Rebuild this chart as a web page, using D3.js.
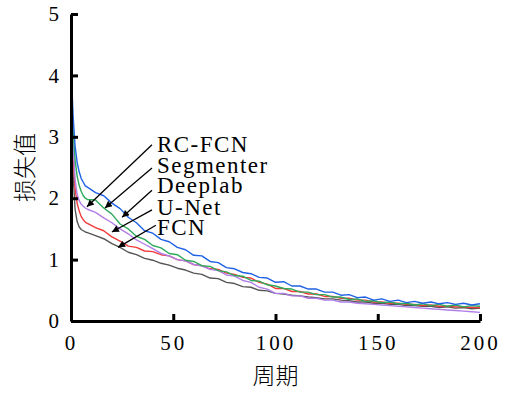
<!DOCTYPE html>
<html>
<head>
<meta charset="utf-8">
<script src="https://cdn.jsdelivr.net/npm/d3@7"></script>
<style>
  body { margin: 0; background: #fff; }
  text { font-family: "Liberation Serif", "Times New Roman", serif; fill: #000; }
  .cjk { font-family: "Noto Sans CJK SC", sans-serif; font-weight: 300; }
</style>
</head>
<body>
<svg id="chart" width="507" height="393"></svg>
<script>
// epochs
const epochs = [0,1,2,3,4,5,6,7,8,12,16,20,24,28,32,36,40,44,48,52,56,60,64,68,72,76,80,84,88,92,96,100,104,108,112,116,120,124,128,132,136,140,144,148,152,156,160,164,168,172,176,180,184,188,192,196,200];

const deeplab = [4.2,3.35,2.85,2.58,2.43,2.32,2.26,2.2,2.18, 2.09,2.04,1.92,1.83,1.69,1.6,1.47,1.43,1.33,1.29,1.2,1.16,1.07,1.06,0.97,0.95,0.87,0.85,0.79,0.77,0.71,0.7,0.63,0.64,0.57,0.57,0.52,0.52,0.47,0.47,0.42,0.43,0.38,0.39,0.34,0.36,0.32,0.34,0.3,0.32,0.29,0.31,0.28,0.3,0.27,0.29,0.26,0.28];
const segmenter = [4.2,3.1,2.62,2.36,2.21,2.11,2.04,2.0,1.98, 1.97,1.84,1.74,1.58,1.5,1.38,1.33,1.23,1.19,1.1,1.08,0.99,0.97,0.9,0.89,0.82,0.8,0.74,0.73,0.66,0.65,0.59,0.57,0.53,0.52,0.47,0.47,0.43,0.43,0.39,0.39,0.35,0.36,0.32,0.33,0.3,0.31,0.28,0.29,0.26,0.28,0.25,0.27,0.24,0.26,0.23,0.25,0.24];
const unet = [4.2,2.75,2.15,1.92,1.79,1.7,1.65,1.61,1.59, 1.52,1.47,1.37,1.3,1.22,1.2,1.14,1.13,1.08,1.06,1.0,0.98,0.92,0.9,0.85,0.84,0.78,0.76,0.71,0.7,0.63,0.6,0.53,0.53,0.48,0.48,0.44,0.44,0.4,0.4,0.37,0.37,0.34,0.34,0.31,0.31,0.29,0.29,0.27,0.27,0.25,0.26,0.24,0.24,0.23,0.23,0.22,0.22];
const rcfcn = [4.25,2.9,2.3,2.06,1.96,1.9,1.87,1.84,1.82, 1.77,1.68,1.6,1.5,1.42,1.32,1.25,1.18,1.1,1.06,1.0,0.98,0.92,0.9,0.84,0.82,0.75,0.73,0.66,0.63,0.55,0.52,0.45,0.45,0.41,0.41,0.37,0.37,0.34,0.34,0.31,0.31,0.29,0.28,0.27,0.26,0.25,0.24,0.23,0.22,0.21,0.2,0.19,0.18,0.17,0.16,0.15,0.14];
const fcn = [4.2,2.4,1.82,1.62,1.53,1.49,1.47,1.45,1.44, 1.39,1.34,1.26,1.2,1.12,1.08,1.02,0.99,0.94,0.91,0.86,0.83,0.78,0.76,0.7,0.69,0.63,0.61,0.56,0.55,0.5,0.49,0.45,0.44,0.42,0.41,0.39,0.38,0.36,0.36,0.34,0.33,0.31,0.31,0.29,0.29,0.27,0.27,0.25,0.25,0.24,0.24,0.22,0.23,0.21,0.22,0.2,0.21];

const xTicks = [0, 50, 100, 150, 200];
const yTicks = [0, 1, 2, 3, 4, 5];

// label text, arrow start and arrow tip, in data units
const labels = ["RC-FCN", "Segmenter", "Deeplab", "U-Net", "FCN"];
const labelPos = [[42, 2.75], [42, 2.41], [42, 2.08], [42, 1.73], [42, 1.4]];
const arrowFrom = [[39.6, 2.87], [39.6, 2.49], [39.6, 2.13], [39.6, 1.81], [41.5, 1.56]];
const arrowTo = [[7.8, 1.86], [16.6, 1.84], [25, 1.69], [20, 1.45], [23, 1.2]];

const series = [
  { name: "FCN", values: fcn, color: "#555555" },
  { name: "U-Net", values: unet, color: "#f03a3a" },
  { name: "RC-FCN", values: rcfcn, color: "#b07ee8" },
  { name: "Segmenter", values: segmenter, color: "#2eaa5c" },
  { name: "Deeplab", values: deeplab, color: "#1f62e6" }
];

const svg = d3.select("#chart");
const margin = { left: 71, right: 27, top: 14, bottom: 72 };
const width = 507 - margin.left - margin.right;
const height = 393 - margin.top - margin.bottom;

const x = d3.scaleLinear().domain([0, 200]).range([0, width]);
const y = d3.scaleLinear().domain([0, 5]).range([height, 0]);

const g = svg.append("g").attr("transform", `translate(${margin.left},${margin.top})`);

// curves
const line = d3.line()
  .x((d, i) => x(epochs[i]))
  .y(d => y(d));

series.forEach(s => {
  g.append("path")
    .datum(s.values)
    .attr("fill", "none")
    .attr("stroke", s.color)
    .attr("stroke-width", 1.4)
    .attr("stroke-linejoin", "round")
    .attr("d", line);
});

// axes, ticks pointing inward
const xAxis = d3.axisBottom(x).tickValues(xTicks).tickFormat(d3.format("d"))
  .tickSizeInner(-7).tickSizeOuter(0).tickPadding(14);
const yAxis = d3.axisLeft(y).tickValues(yTicks).tickFormat(d3.format("d"))
  .tickSizeInner(-7).tickSizeOuter(0).tickPadding(12);

const gx = g.append("g").attr("transform", `translate(0,${height})`).call(xAxis);
const gy = g.append("g").call(yAxis);

[gx, gy].forEach(a => {
  a.attr("font-family", null);
  a.select(".domain").attr("stroke", "#000").attr("stroke-width", 3);
  a.selectAll(".tick line").attr("stroke", "#000").attr("stroke-width", 3);
  a.selectAll(".tick text")
    .style("font-family", "'Liberation Serif', serif")
    .style("font-size", "21px")
    .attr("fill", "#000");
});
gx.selectAll(".tick text").style("letter-spacing", "3px");

// arrows
svg.append("defs").append("marker")
  .attr("id", "head")
  .attr("viewBox", "0 0 10 10")
  .attr("refX", 10).attr("refY", 5)
  .attr("markerWidth", 9).attr("markerHeight", 7)
  .attr("markerUnits", "userSpaceOnUse")
  .attr("orient", "auto")
  .append("path").attr("d", "M0,0L10,5L0,10Z").attr("fill", "#000");

labels.forEach((t, i) => {
  g.append("line")
    .attr("x1", x(arrowFrom[i][0])).attr("y1", y(arrowFrom[i][1]))
    .attr("x2", x(arrowTo[i][0])).attr("y2", y(arrowTo[i][1]))
    .attr("stroke", "#000").attr("stroke-width", 1.3)
    .attr("marker-end", "url(#head)");
  g.append("text")
    .attr("x", x(labelPos[i][0])).attr("y", y(labelPos[i][1]))
    .style("font-size", "23px")
    .style("letter-spacing", "1.5px")
    .text(t);
});

// axis titles
svg.append("text")
  .attr("class", "cjk")
  .attr("x", margin.left + width / 2).attr("y", 384)
  .attr("text-anchor", "middle")
  .style("font-size", "23px")
  .text("周期");

svg.append("text")
  .attr("class", "cjk")
  .attr("transform", `translate(33,${margin.top + height / 2}) rotate(-90)`)
  .attr("text-anchor", "middle")
  .style("font-size", "23px")
  .text("损失值");
</script>
</body>
</html>
